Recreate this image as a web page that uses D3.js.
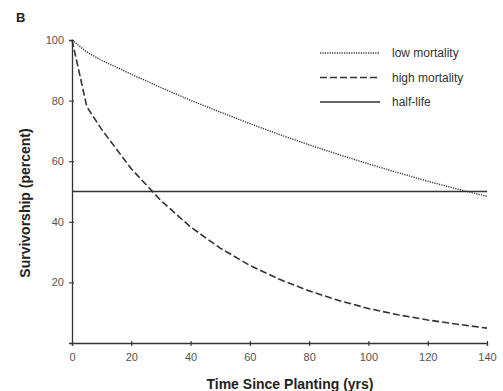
<!DOCTYPE html>
<html>
<head>
<meta charset="utf-8">
<script src="https://cdn.jsdelivr.net/npm/d3@7"></script>
<style>
  body { margin: 0; background: #fff; }
  text { font-family: "Liberation Sans", Arial, sans-serif; }
</style>
</head>
<body>
<svg id="chart" width="503" height="391"></svg>
<script>
// chart data
const years = [0, 5, 10, 20, 30, 40, 50, 60, 70, 80, 90, 100, 110, 120, 130, 140];
const lowMortality = [100, 96, 93.3, 88.7, 84.3, 80.1, 76.2, 72.4, 68.8, 65.4, 62.2, 59.1, 56.2, 53.4, 50.8, 48.4];
const highMortality = [100, 78, 70.5, 57.5, 47, 38.3, 31.3, 25.6, 21, 17.2, 14, 11.4, 9.3, 7.6, 6.2, 4.9];
const halfLife = 50;
const xTicks = [0, 20, 40, 60, 80, 100, 120, 140];
const yTicks = [20, 40, 60, 80, 100];
const legendNames = ["low mortality", "high mortality", "half-life"];

const svg = d3.select("#chart");
const ink = "#333";

const x = d3.scaleLinear().domain([0, 140]).range([72, 487]);
const y = d3.scaleLinear().domain([0, 100]).range([343, 40]);

// panel letter
svg.append("text").attr("x", 16).attr("y", 22)
  .attr("font-size", 13).attr("font-weight", "bold").attr("fill", "#222")
  .text("B");

// axes
const xAxis = svg.append("g").attr("transform", "translate(0,343)")
  .call(d3.axisBottom(x).tickValues(xTicks).tickSize(3).tickPadding(7));
const yAxis = svg.append("g").attr("transform", "translate(72,0)")
  .call(d3.axisLeft(y).tickValues(yTicks).tickSize(3).tickPadding(5));

[xAxis, yAxis].forEach(g => {
  g.select(".domain").attr("stroke", ink).attr("stroke-width", 1.3);
  g.selectAll(".tick line").attr("stroke", ink).attr("stroke-width", 1.1);
  g.selectAll(".tick text").attr("fill", "#555").attr("font-size", 11)
    .attr("font-family", "Liberation Sans, Arial, sans-serif");
});
// ticks cross the axis line a little
xAxis.selectAll(".tick line").attr("y1", -2);
yAxis.selectAll(".tick line").attr("x1", 2);

// axis titles
svg.append("text").attr("x", 290).attr("y", 389)
  .attr("text-anchor", "middle").attr("font-size", 14).attr("font-weight", "bold")
  .attr("fill", "#222").text("Time Since Planting (yrs)");
svg.append("text").attr("transform", "translate(30,203) rotate(-90)")
  .attr("text-anchor", "middle").attr("font-size", 14).attr("font-weight", "bold")
  .attr("fill", "#222").text("Survivorship (percent)");

// lines
const line = d3.line().x(d => x(d[0])).y(d => y(d[1]));

const styles = [
  { dash: "1.2,1.2", width: 1.4 },
  { dash: "7,3", width: 1.6 },
  { dash: null, width: 1.3 }
];

svg.append("line")
  .attr("x1", x(0)).attr("x2", x(140))
  .attr("y1", y(halfLife)).attr("y2", y(halfLife))
  .attr("stroke", ink).attr("stroke-width", styles[2].width);

[lowMortality, highMortality].forEach((vals, i) => {
  svg.append("path")
    .datum(years.map((t, j) => [t, vals[j]]))
    .attr("d", line)
    .attr("fill", "none")
    .attr("stroke", ink)
    .attr("stroke-width", styles[i].width)
    .attr("stroke-linejoin", "round")
    .attr("stroke-dasharray", styles[i].dash);
});

// legend
const legend = svg.append("g");
legendNames.forEach((name, i) => {
  const ly = 53 + i * 24.5;
  legend.append("line")
    .attr("x1", 320).attr("x2", 380).attr("y1", ly).attr("y2", ly)
    .attr("stroke", ink).attr("stroke-width", styles[i].width)
    .attr("stroke-dasharray", styles[i].dash);
  legend.append("text").attr("x", 392).attr("y", ly + 4)
    .attr("font-size", 12).attr("fill", "#333").text(name);
});
</script>
</body>
</html>
